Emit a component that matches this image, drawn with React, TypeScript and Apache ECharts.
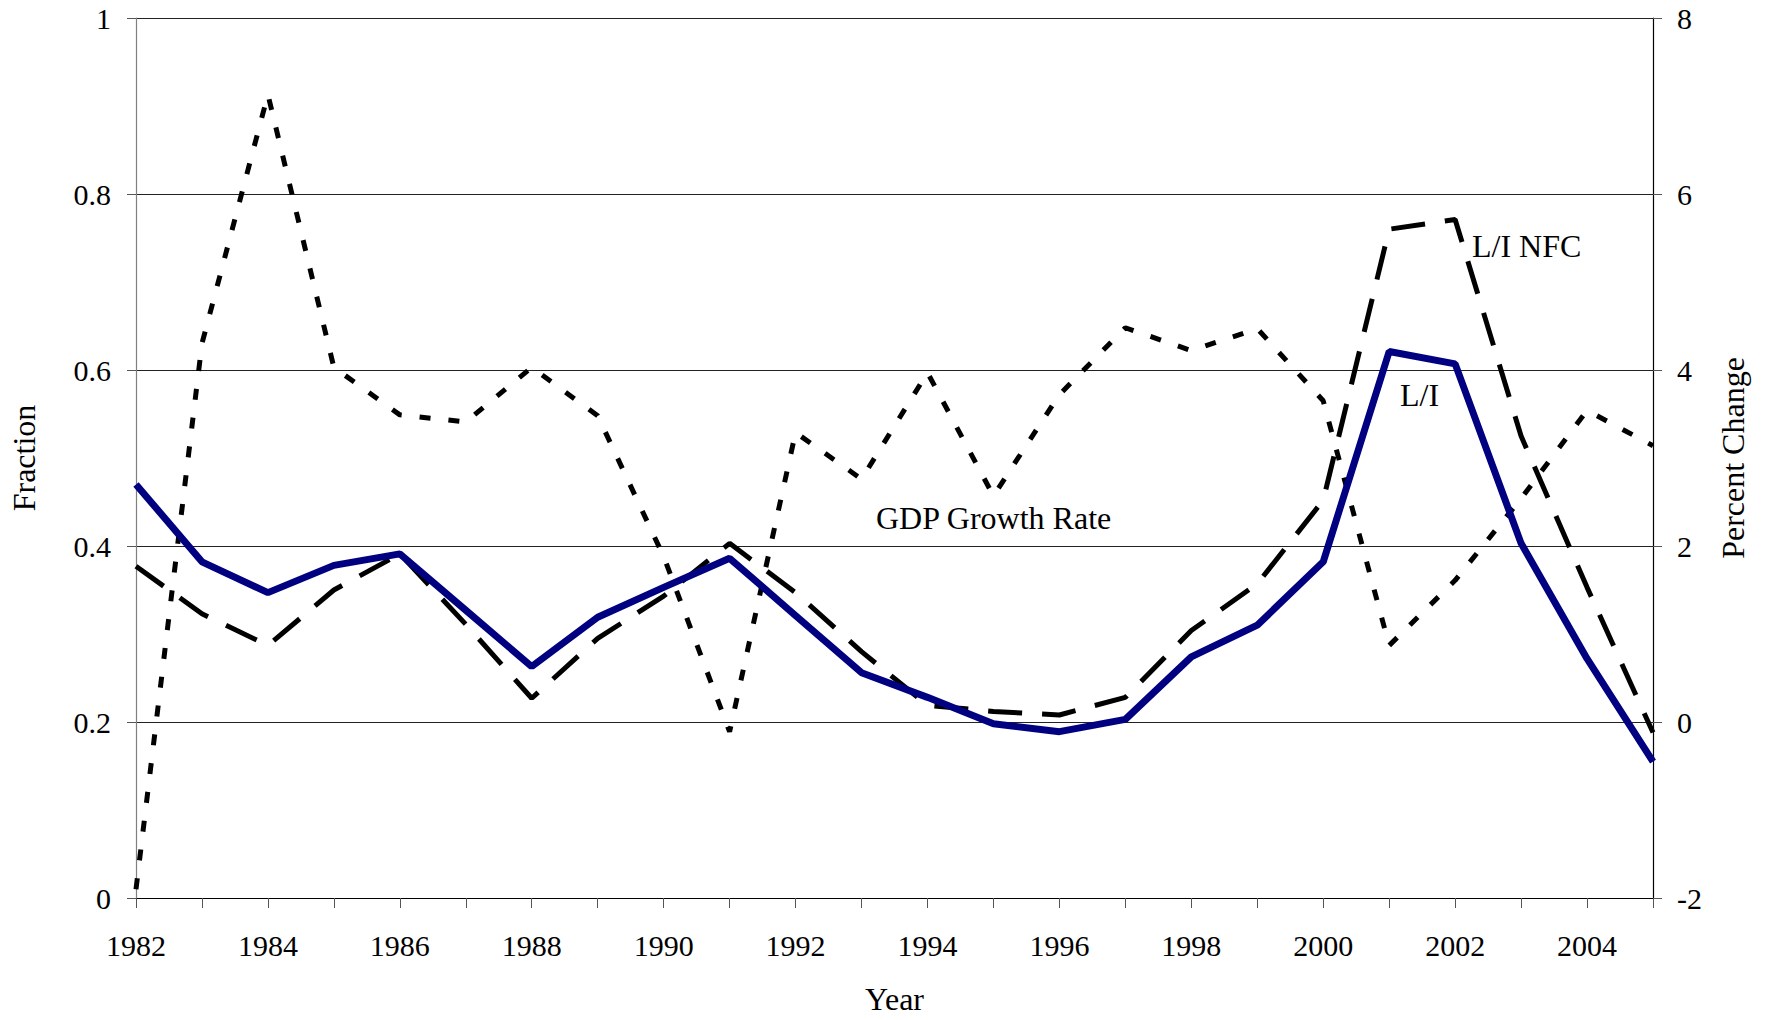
import React, { useEffect, useRef } from "react";
import * as echarts from "echarts";

const years = [
  "1982", "1983", "1984", "1985", "1986", "1987", "1988", "1989", "1990", "1991", "1992", "1993",
  "1994", "1995", "1996", "1997", "1998", "1999", "2000", "2001", "2002", "2003", "2004", "2005",
];

// L/I (fraction, left axis)
const liValues = [
  0.470, 0.382, 0.347, 0.378, 0.391, 0.327, 0.263, 0.319, 0.353, 0.386, 0.321, 0.256,
  0.228, 0.198, 0.189, 0.203, 0.274, 0.310, 0.382, 0.621, 0.607, 0.403, 0.272, 0.155,
];

// L/I NFC (fraction, left axis)
const liNfcValues = [
  0.377, 0.323, 0.287, 0.350, 0.391, 0.311, 0.227, 0.295, 0.343, 0.403, 0.347, 0.280,
  0.219, 0.212, 0.208, 0.228, 0.304, 0.357, 0.452, 0.760, 0.771, 0.525, 0.353, 0.188,
];

// GDP growth rate (percent change, right axis)
const gdpValues = [
  -1.9, 4.3, 7.13, 4.03, 3.49, 3.41, 4.03, 3.48, 1.88, -0.11, 3.29, 2.76,
  3.97, 2.57, 3.72, 4.48, 4.22, 4.47, 3.65, 0.87, 1.61, 2.54, 3.54, 3.14,
];

const leftTicks = { min: 0, max: 1, interval: 0.2 };
const rightTicks = { min: -2, max: 8, interval: 2 };

const FONT = "'Liberation Serif', 'Times New Roman', serif";

export default function App() {
  const ref = useRef<HTMLDivElement>(null);

  useEffect(() => {
    if (!ref.current) return;
    const chart = echarts.init(ref.current, undefined, { renderer: "svg" });
    const labelStyle = { fontFamily: FONT, fontSize: 30, color: "#000" };
    const nameStyle = { fontFamily: FONT, fontSize: 32, color: "#000" };
    chart.setOption({
      animation: false,
      backgroundColor: "#fff",
      grid: { left: 135, right: 118, top: 18, bottom: 120, containLabel: false },
      xAxis: {
        type: "category",
        data: years,
        boundaryGap: false,
        name: "Year",
        nameLocation: "middle",
        nameGap: 85,
        nameTextStyle: { ...nameStyle },
        axisLine: { show: true, lineStyle: { color: "#000", width: 1.2 } },
        axisTick: { show: true, interval: 0, length: 10, lineStyle: { color: "#555", width: 1 } },
        axisLabel: { interval: 1, margin: 32, ...labelStyle },
        splitLine: { show: false },
      },
      yAxis: [
        {
          type: "value",
          position: "left",
          min: leftTicks.min,
          max: leftTicks.max,
          interval: leftTicks.interval,
          name: "Fraction",
          nameLocation: "middle",
          nameGap: 96,
          nameTextStyle: { ...nameStyle },
          axisLine: { show: true, lineStyle: { color: "#808080", width: 1.2 } },
          axisTick: { show: true, length: 9, lineStyle: { color: "#555" } },
          axisLabel: { margin: 25, ...labelStyle, formatter: (v: number) => String(+v.toFixed(1)) },
          splitLine: { show: true, lineStyle: { color: "#222", width: 1.2 } },
        },
        {
          type: "value",
          position: "right",
          min: rightTicks.min,
          max: rightTicks.max,
          interval: rightTicks.interval,
          name: "Percent Change",
          nameLocation: "middle",
          nameGap: 64,
          nameTextStyle: { ...nameStyle },
          axisLine: { show: true, lineStyle: { color: "#000", width: 1.2 } },
          axisTick: { show: true, length: 9, lineStyle: { color: "#555" } },
          axisLabel: { margin: 24, ...labelStyle },
          splitLine: { show: false },
        },
      ],
      series: [
        {
          name: "GDP Growth Rate",
          type: "line",
          yAxisIndex: 1,
          data: gdpValues,
          showSymbol: false,
          symbol: "none",
          lineStyle: { color: "#000", width: 5, type: [11, 18] },
          z: 2,
        },
        {
          name: "L/I NFC",
          type: "line",
          yAxisIndex: 0,
          data: liNfcValues,
          showSymbol: false,
          symbol: "none",
          lineStyle: { color: "#000", width: 5, type: [34, 20] },
          z: 3,
        },
        {
          name: "L/I",
          type: "line",
          yAxisIndex: 0,
          data: liValues,
          showSymbol: false,
          symbol: "none",
          lineStyle: { color: "#000080", width: 7 },
          z: 4,
        },
      ],
      graphic: [
        {
          type: "text",
          left: 876,
          top: 502,
          style: { text: "GDP Growth Rate", font: `32px ${FONT}`, fill: "#000" },
        },
        {
          type: "text",
          left: 1472,
          top: 230,
          style: { text: "L/I NFC", font: `32px ${FONT}`, fill: "#000" },
        },
        {
          type: "text",
          left: 1400,
          top: 379,
          style: { text: "L/I", font: `32px ${FONT}`, fill: "#000" },
        },
      ],
    });
    return () => chart.dispose();
  }, []);

  return (
    <div
      ref={ref}
      style={{ position: "fixed", left: 0, top: 0, width: 1771, height: 1020, background: "#fff" }}
    />
  );
}
